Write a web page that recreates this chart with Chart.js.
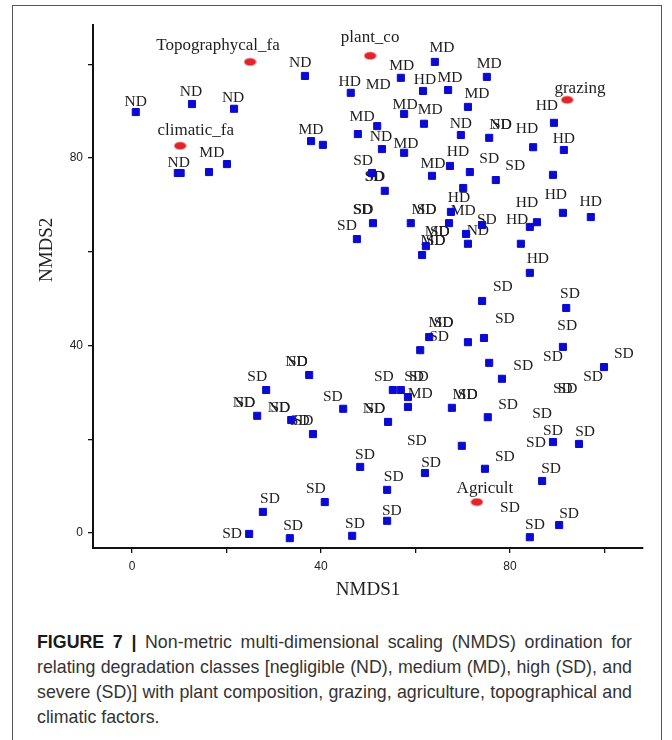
<!DOCTYPE html>
<html><head><meta charset="utf-8">
<script src="https://cdn.jsdelivr.net/npm/chart.js@4/dist/chart.umd.min.js"></script>
<style>
html,body{margin:0;padding:0;background:#fff;}
#wrap{position:relative;width:672px;height:740px;overflow:hidden;background:#fff;}
#frame{position:absolute;left:12px;top:5px;width:650px;height:760px;border:1px solid #555;box-sizing:border-box;}
#c{position:absolute;left:0;top:0;}
#cap{position:absolute;left:37px;top:630px;width:595px;font-family:"Liberation Sans",Arial,sans-serif;font-size:17.8px;line-height:25px;color:#333;}
#cap div{white-space:nowrap;}
#cap .j{text-align:justify;text-align-last:justify;}
#cap b{color:#1a1a1a;}
</style></head><body>
<div id="wrap">
<div id="frame"></div>
<canvas id="c" width="672" height="610"></canvas>
<div id="cap">
<div class="j"><b>FIGURE 7 |</b> Non-metric multi-dimensional scaling (NMDS) ordination for</div>
<div class="j">relating degradation classes [negligible (ND), medium (MD), high (SD), and</div>
<div class="j">severe (SD)] with plant composition, grazing, agriculture, topographical and</div>
<div>climatic factors.</div>
</div>
</div>
<script>
// ---- data (NMDS1, NMDS2 units) ----
const siteX = [36.6,12.7,21.6,0.8,16.3,20.1,9.7,10.3,
  64.1,56.9,46.3,61.6,66.9,75.1,71.1,57.6,61.8,51.9,47.8,69.6,37.9,40.4,52.9,57.6,67.3,50.8,63.5,71.5,53.5,70.1,
  89.3,75.6,84.9,91.4,77.0,89.1,
  67.5,67.1,59.0,51.0,47.6,62.2,61.4,70.7,71.1,74.1,82.3,84.2,85.7,91.2,97.1,84.2,
  74.1,91.9,74.5,71.1,62.9,61.0,91.2,99.9,75.6,78.3,58.4,58.4,67.7,75.3,89.1,94.6,69.8,74.7,62.0,86.8,90.4,84.2,
  37.5,28.4,55.2,56.9,44.7,26.5,33.7,38.3,54.2,48.3,54.0,40.8,27.7,54.0,33.4,46.6,24.8];
const siteY = [97.5,91.5,90.5,89.8,77.0,78.7,76.8,76.8,
  100.5,97.1,93.9,94.3,94.5,97.3,90.9,89.4,87.3,86.8,85.1,84.9,83.6,82.8,81.9,81.1,78.3,76.8,76.2,77.0,73.0,73.6,
  87.5,84.3,82.3,81.7,75.3,76.4,
  68.5,66.1,66.1,66.1,62.7,61.2,59.3,63.8,61.7,65.7,61.7,65.3,66.3,68.3,67.4,55.5,
  49.5,48.0,41.6,40.7,41.8,39.0,39.7,35.4,36.3,32.9,29.0,26.9,26.7,24.7,19.4,19.0,18.6,13.7,12.8,11.1,1.7,-0.9,
  33.7,30.5,30.5,30.5,26.5,25.0,24.1,21.1,23.7,14.1,9.2,6.6,4.5,2.6,-1.1,-0.6,-0.2];

const labelText = ['ND','ND','ND','ND','MD','ND',
  'MD','MD','HD','MD','HD','MD','MD','MD','MD','MD','MD','ND','MD','ND','MD','HD','SD','MD','SD','SD','SD','SD',
  'HD','ND','SD','HD','HD',
  'HD','MD','MD','SD','SD','SD','SD','MD','SD','MD','SD','ND','SD','HD','HD','HD','HD','HD',
  'SD','SD','SD','MD','SD','SD','SD','SD','SD','SD','SD','SD','SD','SD','SD','MD','MD','SD','SD','SD','SD','SD','SD','SD','SD','SD','SD','SD','SD','SD',
  'ND','SD','SD','SD','SD','ND','SD','ND','SD','SD','SD','ND','SD','SD','SD','SD','SD','SD','SD','SD','SD'];
const labelX = [35.6,12.5,21.4,0.8,16.9,9.9,
  65.6,57.1,46.1,52.1,62.0,67.3,75.6,73.0,57.8,63.1,48.7,69.6,37.9,52.7,58.0,69.0,48.9,63.7,51.3,51.5,75.6,81.1,
  87.8,78.0,78.3,83.6,91.4,
  69.2,70.1,61.8,62.35,48.8,49.0,45.5,64.6,65.15,63.7,64.25,73.2,75.1,81.5,83.6,89.7,97.1,85.9,
  78.5,92.7,78.9,65.4,65.95,65.0,92.1,104.1,89.1,82.8,97.6,91.2,92.2,59.7,60.7,61.0,70.5,71.05,79.6,86.8,89.1,95.9,85.5,60.3,78.9,63.3,88.7,80.0,92.5,85.3,
  34.8,35.1,26.5,53.3,42.5,23.7,24.0,31.1,31.4,35.5,36.3,51.2,51.5,49.3,55.4,38.9,29.2,55.0,34.1,47.2,21.2];
const labelY = [100.3,94.1,92.8,91.9,81.1,78.9,
  103.5,99.6,96.2,95.6,96.6,97.1,100.1,93.7,91.3,90.2,88.7,87.3,86.0,84.5,83.0,81.3,79.4,78.7,75.9,75.9,79.8,78.3,
  91.1,87.0,87.0,86.2,84.1,
  71.5,68.7,68.9,68.9,68.9,68.9,65.5,64.2,64.2,62.3,62.3,64.4,66.8,66.8,70.4,72.1,70.6,58.5,
  52.5,51.0,45.7,44.8,44.8,41.8,44.2,38.2,37.5,35.6,33.3,30.7,30.7,33.3,33.3,29.7,29.4,29.4,27.3,25.4,21.8,21.5,19.2,19.6,16.2,14.9,13.7,5.3,4.1,1.7,
  36.5,36.5,33.3,33.3,29.0,27.7,27.7,26.7,26.7,23.9,23.9,26.5,26.5,16.6,11.9,9.4,7.3,4.7,1.5,1.9,-0.2];

const factorNames = ['Topographycal_fa','plant_co','climatic_fa','grazing','Agricult'];
const factorX = [25.0,50.4,10.2,92.1,73.0];
const factorY = [100.5,101.8,82.6,92.4,6.6];
const factorLabelX = [18.2,50.4,13.5,94.8,74.7];
const factorLabelY = [103.9,105.6,85.8,94.9,9.4];

const xTickValues = [0,20,40,60,80,100];
const yTickValues = [0,20,40,60,80,100];
const labelledTicks = [0,40,80];
const xTitle = 'NMDS1';
const yTitle = 'NMDS2';

// ---- drawing ----
const serif = '"Liberation Serif","Times New Roman",serif';
const ell = document.createElement('canvas');
ell.width = 13; ell.height = 9;
(function(){const e=ell.getContext('2d');e.fillStyle='#e0262b';e.beginPath();e.ellipse(6.5,4.5,6,3.8,0,0,Math.PI*2);e.fill();})();

const textPlugin = {
  id:'texts',
  beforeDatasetsDraw(chart){
    const {ctx, scales:{x,y}} = chart;
    ctx.save();
    ctx.fillStyle = '#1e1e1e';
    ctx.textAlign = 'center';
    ctx.textBaseline = 'middle';
    ctx.font = '15.5px ' + serif;
    labelText.forEach((t,i)=>ctx.fillText(t, x.getPixelForValue(labelX[i]), y.getPixelForValue(labelY[i])));
    ctx.font = '17px ' + serif;
    factorNames.forEach((t,i)=>ctx.fillText(t, x.getPixelForValue(factorLabelX[i]), y.getPixelForValue(factorLabelY[i])));
    ctx.restore();
  },
  afterDraw(chart){
    const {ctx, chartArea} = chart;
    ctx.save();
    ctx.fillStyle = '#222';
    ctx.font = '19px ' + serif;
    ctx.textAlign = 'center';
    ctx.textBaseline = 'middle';
    ctx.translate(chartArea.left - 46, chartArea.top + (chartArea.bottom - chartArea.top) * 0.43);
    ctx.rotate(-Math.PI/2);
    ctx.fillText(yTitle, 0, 0);
    ctx.restore();
  }
};

const tickFont = {family:'"Liberation Sans",Arial,sans-serif', size:12};
new Chart(document.getElementById('c'), {
  type:'scatter',
  data:{datasets:[
    {data: siteX.map((v,i)=>({x:v, y:siteY[i]})), pointStyle:'rect', pointRadius:5, borderWidth:1,
     backgroundColor:'#0a0ad2', borderColor:'#0a0ad2', clip:false},
    {data: factorX.map((v,i)=>({x:v, y:factorY[i]})), pointStyle:ell, pointRadius:6, clip:false}
  ]},
  options:{
    responsive:false, animation:false, devicePixelRatio:1,
    layout:{padding:{left:0, top:25, right:29, bottom:0}},
    plugins:{legend:{display:false}, tooltip:{enabled:false}},
    scales:{
      x:{type:'linear', min:-8.25, max:108.15,
        afterBuildTicks:s=>{s.ticks = xTickValues.map(v=>({value:v}));},
        afterFit:s=>{s.height = 62;},
        ticks:{autoSkip:false, padding:6, color:'#222', font:tickFont, maxRotation:0,
          callback:v=>labelledTicks.includes(v)?String(v):''},
        grid:{drawOnChartArea:false, drawTicks:true, tickLength:5, color:'#111', lineWidth:1.3},
        border:{display:true, color:'#111', width:2},
        title:{display:true, text:xTitle, color:'#222', font:{family:serif, size:19}, padding:{top:0, bottom:8.6}}
      },
      y:{type:'linear', min:-3.2, max:108.37,
        afterBuildTicks:s=>{s.ticks = yTickValues.map(v=>({value:v}));},
        afterFit:s=>{s.width = 93;},
        ticks:{autoSkip:false, padding:5, color:'#222', font:tickFont,
          callback:v=>labelledTicks.includes(v)?String(v):''},
        grid:{drawOnChartArea:false, drawTicks:true, tickLength:5, color:'#111', lineWidth:1.3},
        border:{display:true, color:'#111', width:2}
      }
    }
  },
  plugins:[textPlugin]
});
</script>
</body></html>
